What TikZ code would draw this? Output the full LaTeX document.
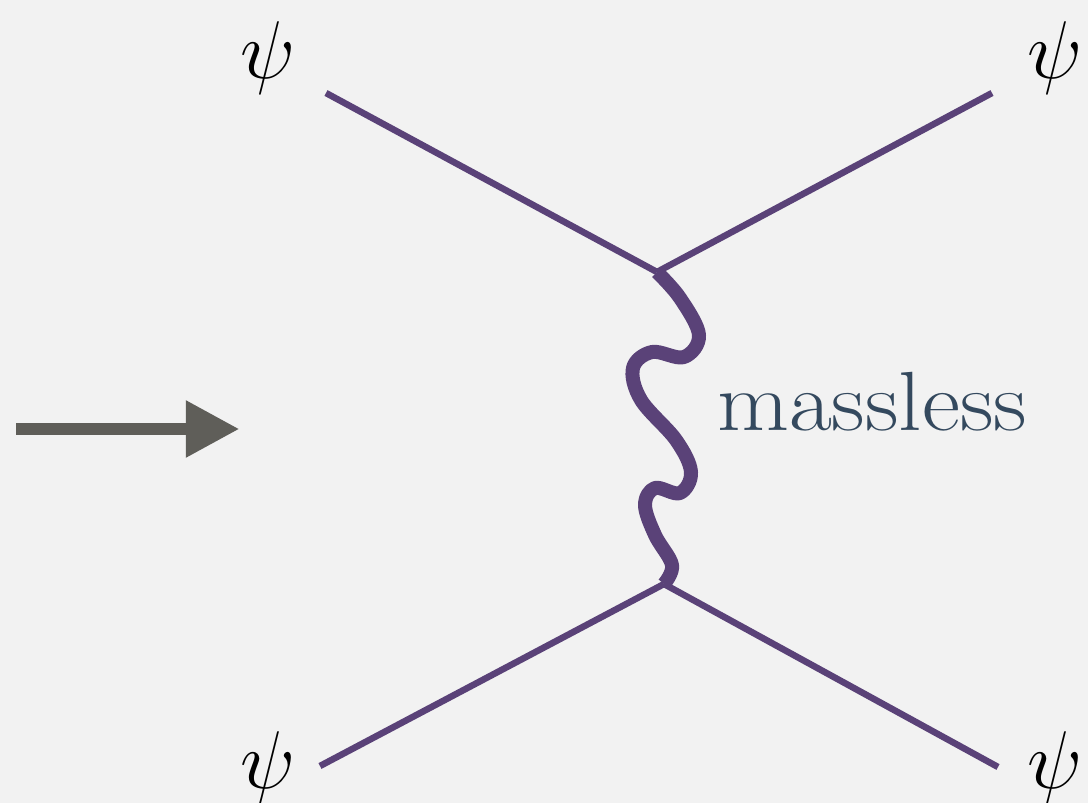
\RequirePackage{fix-cm}
\documentclass[tikz,border=0pt]{standalone}
\usetikzlibrary{arrows.meta}
\definecolor{bgc}{HTML}{F2F2F2}
\definecolor{fermc}{HTML}{5A4278}
\definecolor{arrc}{HTML}{5F5E59}
\definecolor{txtc}{HTML}{34495E}
\begin{document}
\begin{tikzpicture}[x=1pt,y=-1pt,
  fermion/.style={draw=fermc,line width=6.5pt},
  photon/.style={draw=fermc,line width=14pt,line join=round},
  bigarrow/.style={draw=arrc,line width=12.7pt,-{Triangle[length=53.6pt,width=53.6pt]},fill=arrc},
  lbl/.style={inner sep=0pt,font=\fontsize{82}{98}\selectfont},
  txt/.style={inner sep=0pt,text=txtc,font=\fontsize{84}{100}\selectfont}]
\fill[bgc] (0,0) rectangle (1088,803);
\useasboundingbox (0,0) rectangle (1088,803);
% coordinates
\coordinate (tl) at (326,93);
\coordinate (tr) at (992,93);
\coordinate (bl) at (320,766);
\coordinate (br) at (998,767);
\coordinate (v1) at (657,272);
\coordinate (v2) at (664,584);
\coordinate (a1) at (16,429);
\coordinate (a2) at (239.5,429);
% photon
\draw[photon] plot[smooth,tension=0.6] coordinates {(v1) (680,298) (699,335) (684,357) (652,352) (633,368) (641,400) (676,440) (691,472) (680,493) (655,488) (645,505) (655,535) (672,565) (v2)};
% fermion lines
\draw[fermion] (tl) -- (v1);
\draw[fermion] (tr) -- (v1);
\draw[fermion] (bl) -- (v2);
\draw[fermion] (br) -- (v2);
% labels
\node[lbl] (p1) at (268,58) {$\psi$};
\node[lbl] (p2) at (1055,58) {$\psi$};
\node[lbl] (p3) at (268,768) {$\psi$};
\node[lbl] (p4) at (1055,768) {$\psi$};
\node[txt,anchor=base west] (m) at (717,430) {\scalebox{1.11}[1]{massless}};
% arrow
\draw[bigarrow] (a1) -- (a2);
\end{tikzpicture}
\end{document}
